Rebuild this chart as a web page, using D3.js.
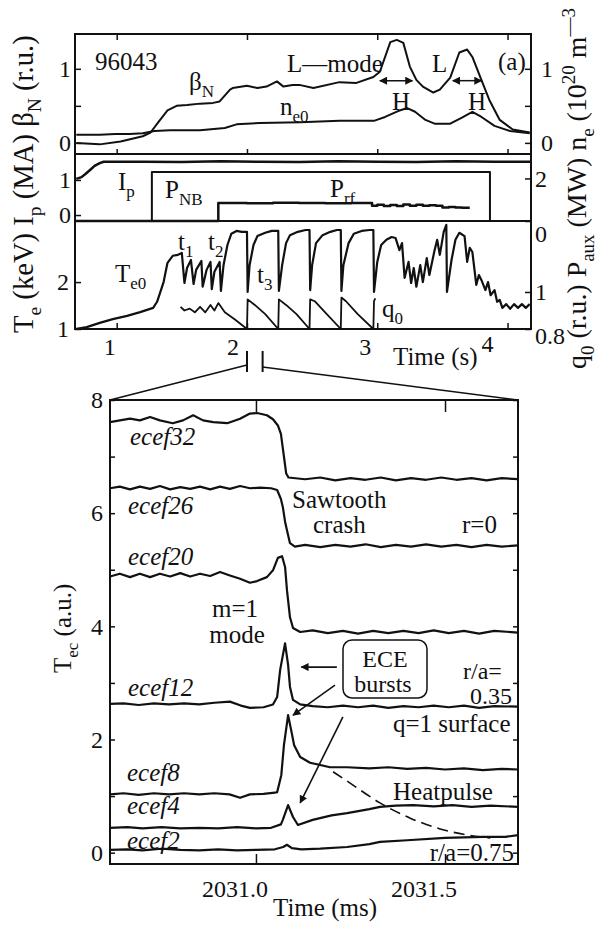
<!DOCTYPE html>
<html>
<head>
<meta charset="utf-8">
<script src="https://cdn.jsdelivr.net/npm/d3@7"></script>
<style>
  body { margin: 0; background: #fff; }
  svg { display: block; }
  text { font-family: "Liberation Serif", "Times New Roman", serif; fill: #111; }
</style>
</head>
<body>
<svg id="fig" width="597" height="925"></svg>
<script>
// ---------- panel (a) data, time in s ----------
const betaN = [[0.69,0.00],[0.87,-0.02],[1.03,0.02],[1.20,0.09],[1.26,0.14],[1.32,0.28],[1.39,0.44],[1.46,0.50],
  [1.54,0.51],[1.64,0.53],[1.74,0.54],[1.79,0.56],[1.87,0.72],[1.89,0.74],[2.00,0.77],[2.08,0.74],[2.15,0.76],
  [2.23,0.83],[2.28,0.76],[2.35,0.78],[2.41,0.78],[2.51,0.74],[2.71,0.82],[2.84,0.81],[2.97,0.89],[3.02,0.96],
  [3.10,1.36],[3.15,1.39],[3.20,1.35],[3.25,1.03],[3.30,0.85],[3.35,0.76],[3.43,0.68],[3.48,0.72],[3.56,0.88],
  [3.63,1.22],[3.69,1.26],[3.73,1.16],[3.79,0.89],[3.86,0.58],[3.94,0.31],[4.04,0.18],[4.17,0.14]];
const ne0 = [[0.69,0.11],[0.87,0.11],[0.99,0.12],[1.10,0.12],[1.20,0.13],[1.29,0.16],[1.41,0.17],[1.64,0.17],
  [1.83,0.20],[1.92,0.25],[2.10,0.27],[2.41,0.28],[2.71,0.30],[2.98,0.30],[3.06,0.35],[3.16,0.43],[3.23,0.47],
  [3.29,0.42],[3.37,0.31],[3.44,0.26],[3.56,0.26],[3.65,0.34],[3.73,0.42],[3.80,0.35],[3.90,0.23],[4.02,0.16],[4.17,0.13]];
const ip = [[0.69,1.03],[0.73,1.08],[0.76,1.17],[0.80,1.30],[0.83,1.40],[0.87,1.48],[0.90,1.52],[1.2,1.52],[1.5,1.51],
  [1.8,1.53],[2.1,1.52],[2.4,1.51],[2.7,1.53],[3.0,1.52],[3.3,1.51],[3.6,1.53],[3.9,1.52],[4.18,1.52]];
const pnb = [[0.68,0],[1.27,2.30],[3.865,0],[4.18,0]];
const prf = [[0.68,0],[1.78,0.85],[2.0,0.84],[2.2,0.86],[2.4,0.85],[2.6,0.84],[2.8,0.85],[2.96,0.72],[3.0,0.76],
  [3.05,0.70],[3.1,0.75],[3.15,0.71],[3.2,0.77],[3.25,0.72],[3.3,0.76],[3.35,0.72],[3.4,0.74],[3.45,0.72],
  [3.5,0.64],[3.55,0.66],[3.6,0.63],[3.65,0.62],[3.71,0.62]];
const te0 = [[0.68,1.00],[0.77,1.04],[0.87,1.13],[0.97,1.21],[1.08,1.28],[1.18,1.36],[1.28,1.45],[1.31,1.58],
  [1.36,2.00],[1.39,2.41],[1.43,2.56],[1.47,2.58],[1.50,2.62],[1.52,1.98],[1.54,2.30],[1.57,2.47],[1.59,1.96],
  [1.61,2.26],[1.65,2.45],[1.66,1.90],[1.69,2.26],[1.72,2.43],[1.73,1.85],[1.75,2.22],[1.79,2.43],[1.80,1.81],
  [1.82,2.36],[1.85,2.79],[1.88,3.03],[1.92,3.09],[1.96,3.07],[2.00,3.07],[2.005,1.79],[2.02,2.36],[2.05,2.79],
  [2.08,2.98],[2.14,3.05],[2.19,3.09],[2.24,3.09],[2.245,1.81],[2.27,2.36],[2.30,2.83],[2.33,3.00],[2.39,3.07],
  [2.45,3.11],[2.48,3.11],[2.485,1.83],[2.50,2.36],[2.53,2.83],[2.58,3.00],[2.64,3.07],[2.69,3.11],[2.72,3.11],
  [2.725,1.81],[2.74,2.36],[2.78,2.83],[2.82,3.03],[2.88,3.09],[2.94,3.11],[2.97,3.11],[2.975,1.79],[3.00,2.43],
  [3.03,2.79],[3.07,2.90],[3.11,2.96],[3.14,2.94],[3.17,2.68],[3.19,2.83],[3.21,2.09],[3.24,2.43],[3.26,1.98],
  [3.28,2.30],[3.30,1.90],[3.33,2.36],[3.35,2.00],[3.38,2.51],[3.40,2.15],[3.44,2.68],[3.46,2.90],[3.48,2.58],
  [3.51,3.07],[3.53,3.22],[3.535,1.79],[3.57,2.47],[3.60,2.90],[3.63,3.05],[3.67,2.98],[3.69,2.43],[3.71,2.73],
  [3.73,2.64],[3.76,1.94],[3.78,2.15],[3.80,2.04],[3.83,1.83],[3.85,2.00],[3.87,1.72],[3.90,1.83],[3.92,1.58],
  [3.94,1.62],[3.96,1.45],[3.99,1.53],[4.02,1.43],[4.05,1.53],[4.08,1.45],[4.11,1.53],[4.14,1.45],[4.17,1.53]];
const q0 = [[1.49,0.92],[1.52,0.90],[1.56,0.91],[1.60,0.89],[1.64,0.92],[1.68,0.89],[1.72,0.93],[1.75,0.90],
  [1.78,0.94],[1.83,0.89],[1.91,0.85],[2.00,0.80],[2.005,0.96],[2.06,0.93],[2.14,0.88],[2.24,0.80],
  [2.245,0.96],[2.30,0.93],[2.38,0.88],[2.48,0.80],[2.485,0.96],[2.52,0.95],[2.60,0.89],[2.72,0.80],
  [2.725,0.97],[2.76,0.95],[2.85,0.88],[2.97,0.80],[2.975,0.95],[2.985,0.965]];

const ticksTime = [1, 2, 3, 4];

// ---------- panel (b) data, time in ms ----------
const ecef32 = [[2030.614,7.61],[2030.640,7.64],[2030.667,7.67],[2030.693,7.64],[2030.720,7.70],[2030.746,7.64],
  [2030.780,7.59],[2030.807,7.64],[2030.834,7.73],[2030.860,7.64],[2030.887,7.61],[2030.924,7.59],[2030.958,7.67],
  [2030.984,7.76],[2031.003,7.77],[2031.029,7.73],[2031.045,7.66],[2031.058,7.55],[2031.066,7.40],[2031.071,7.15],
  [2031.076,6.90],[2031.080,6.70],[2031.086,6.63],[2031.13,6.60],[2031.17,6.63],[2031.21,6.58],[2031.25,6.62],
  [2031.29,6.59],[2031.33,6.63],[2031.37,6.58],[2031.41,6.62],[2031.45,6.59],[2031.49,6.63],[2031.53,6.59],
  [2031.57,6.62],[2031.61,6.58],[2031.65,6.62],[2031.693,6.60]];
const ecef26 = [[2030.614,6.44],[2030.64,6.47],[2030.667,6.42],[2030.693,6.47],[2030.72,6.43],[2030.746,6.48],
  [2030.773,6.42],[2030.80,6.46],[2030.826,6.43],[2030.852,6.47],[2030.879,6.42],[2030.905,6.47],[2030.931,6.43],
  [2030.958,6.48],[2030.984,6.44],[2031.011,6.45],[2031.04,6.44],[2031.056,6.41],[2031.066,6.25],[2031.071,6.11],
  [2031.077,5.85],[2031.082,5.70],[2031.09,5.47],[2031.103,5.41],[2031.13,5.44],[2031.17,5.40],[2031.21,5.44],
  [2031.25,5.41],[2031.29,5.45],[2031.33,5.40],[2031.37,5.44],[2031.41,5.41],[2031.45,5.45],[2031.49,5.41],
  [2031.53,5.44],[2031.57,5.40],[2031.61,5.44],[2031.65,5.41],[2031.693,5.43]];
const ecef20 = [[2030.614,4.88],[2030.64,4.93],[2030.667,4.87],[2030.693,4.93],[2030.72,4.87],[2030.746,4.93],
  [2030.773,4.88],[2030.80,4.94],[2030.826,4.88],[2030.852,4.93],[2030.879,4.89],[2030.905,4.96],[2030.931,4.90],
  [2030.958,4.84],[2030.984,4.77],[2031.003,4.80],[2031.029,4.87],[2031.045,4.99],[2031.058,5.21],[2031.069,5.24],
  [2031.077,5.05],[2031.082,4.64],[2031.09,4.16],[2031.098,3.97],[2031.117,3.90],[2031.15,3.93],[2031.19,3.88],
  [2031.23,3.92],[2031.27,3.87],[2031.31,3.92],[2031.35,3.88],[2031.39,3.92],[2031.43,3.88],[2031.47,3.93],
  [2031.51,3.88],[2031.55,3.92],[2031.59,3.87],[2031.63,3.92],[2031.693,3.89]];
const ecef12 = [[2030.614,2.63],[2030.65,2.64],[2030.69,2.61],[2030.73,2.64],[2030.77,2.62],[2030.81,2.64],
  [2030.85,2.62],[2030.89,2.65],[2030.931,2.67],[2030.96,2.60],[2030.984,2.56],[2031.02,2.57],[2031.045,2.62],
  [2031.056,2.75],[2031.064,3.23],[2031.077,3.70],[2031.085,3.32],[2031.09,2.93],[2031.098,2.70],[2031.117,2.62],
  [2031.15,2.59],[2031.19,2.57],[2031.23,2.60],[2031.27,2.57],[2031.31,2.60],[2031.35,2.56],[2031.39,2.59],
  [2031.43,2.57],[2031.47,2.60],[2031.51,2.57],[2031.55,2.60],[2031.59,2.56],[2031.63,2.59],[2031.693,2.58]];
const ecef8 = [[2030.614,1.03],[2030.65,1.05],[2030.69,1.02],[2030.73,1.05],[2030.77,1.03],[2030.81,1.05],
  [2030.85,1.03],[2030.89,1.05],[2030.93,1.03],[2030.958,0.97],[2030.984,1.03],[2031.02,1.04],[2031.05,1.06],
  [2031.056,1.07],[2031.067,1.37],[2031.074,1.90],[2031.085,2.43],[2031.093,2.17],[2031.101,1.90],[2031.117,1.69],
  [2031.143,1.59],[2031.196,1.51],[2031.241,1.51],[2031.30,1.49],[2031.35,1.51],[2031.40,1.48],[2031.45,1.50],
  [2031.50,1.47],[2031.55,1.49],[2031.60,1.46],[2031.65,1.48],[2031.693,1.47]];
const ecef4 = [[2030.614,0.44],[2030.66,0.45],[2030.70,0.43],[2030.75,0.45],[2030.80,0.43],[2030.85,0.44],
  [2030.90,0.43],[2030.95,0.45],[2031.0,0.43],[2031.04,0.44],[2031.066,0.50],[2031.071,0.58],[2031.085,0.84],
  [2031.098,0.63],[2031.111,0.49],[2031.15,0.58],[2031.20,0.66],[2031.241,0.70],[2031.30,0.77],[2031.328,0.81],
  [2031.37,0.83],[2031.416,0.84],[2031.47,0.82],[2031.52,0.84],[2031.57,0.81],[2031.62,0.83],[2031.693,0.81]];
const ecef2 = [[2030.614,0.05],[2030.66,0.06],[2030.70,0.04],[2030.75,0.07],[2030.80,0.05],[2030.85,0.04],
  [2030.90,0.06],[2030.95,0.04],[2031.0,0.05],[2031.05,0.06],[2031.072,0.10],[2031.082,0.14],[2031.095,0.08],
  [2031.12,0.06],[2031.17,0.07],[2031.241,0.10],[2031.30,0.15],[2031.328,0.19],[2031.40,0.22],[2031.50,0.26],
  [2031.60,0.28],[2031.66,0.28],[2031.693,0.31]];
const heatpulse = [[2031.204,1.43],[2031.249,1.23],[2031.328,0.88],[2031.408,0.61],[2031.487,0.42],
  [2031.593,0.28],[2031.62,0.26]];

const ticksMs = [2031.0, 2031.5];
const ticksTec = [0, 1, 2, 3, 4, 5, 6, 7, 8];

// ---------- scales ----------
const xa = d3.scaleLinear().domain([0.68, 4.18]).range([75, 531]);
const yTop = d3.scaleLinear().domain([-0.15, 1.47]).range([154, 34]);
const yIp = d3.scaleLinear().domain([-0.17, 1.74]).range([221, 154]);
const yP = d3.scaleLinear().domain([0, 3.15]).range([221, 154]);
const yTe = d3.scaleLinear().domain([1, 3.28]).range([329, 222]);
const yQ = d3.scaleLinear().domain([0.8, 1.378]).range([329, 222]);
const xb = d3.scaleLinear().domain([2030.614, 2031.693]).range([110, 518]);
const yb = d3.scaleLinear().domain([-0.2, 8]).range([864, 400]);

const svg = d3.select("#fig");
svg.append("rect").attr("width", 597).attr("height", 925).attr("fill", "#fff");

const defs = svg.append("defs");
defs.append("marker").attr("id", "ah").attr("viewBox", "0 0 10 10")
  .attr("refX", 9).attr("refY", 5).attr("markerWidth", 11).attr("markerHeight", 8)
  .attr("markerUnits", "userSpaceOnUse").attr("orient", "auto-start-reverse")
  .append("path").attr("d", "M0,0 L10,5 L0,10 z").attr("fill", "#111");

function trace(data, xs, ys, opts = {}) {
  const line = d3.line().x(d => xs(d[0])).y(d => ys(d[1])).curve(opts.curve || d3.curveLinear);
  return svg.append("path").attr("d", line(data)).attr("fill", "none")
    .attr("stroke", "#111").attr("stroke-width", opts.w || 2)
    .attr("stroke-linejoin", "round").attr("stroke-dasharray", opts.dash || null);
}

// text with optional sub/superscripts: parts = [[str, "sub"|"sup"|null], ...]
function txt(x, y, parts, opts = {}) {
  const size = opts.size || 25;
  const t = svg.append("text").attr("x", x).attr("y", y).attr("font-size", size)
    .attr("text-anchor", opts.anchor || "start")
    .attr("font-style", opts.italic ? "italic" : null)
    .attr("transform", opts.rot ? `rotate(-90,${x},${y})` : null);
  let shift = 0;
  parts.forEach(([s, kind]) => {
    const target = kind === "sub" ? 0.28 * size : kind === "sup" ? -0.4 * size : 0;
    t.append("tspan").text(s).attr("dy", target - shift)
      .attr("font-size", kind ? size * 0.68 : size);
    shift = target;
  });
  // scale the whole label so that it spans a given length
  if (opts.span) {
    const len = t.node().getComputedTextLength();
    const k = opts.span / len;
    t.attr("font-size", size * k);
    t.selectAll("tspan").each(function () {
      const s = d3.select(this);
      s.attr("font-size", +s.attr("font-size") * k).attr("dy", +s.attr("dy") * k);
    });
  }
  return t;
}

// ---------- panel (a) frame and axes ----------
svg.append("rect").attr("x", 75).attr("y", 34).attr("width", 456).attr("height", 295)
  .attr("fill", "none").attr("stroke", "#111").attr("stroke-width", 2);
[154, 221].forEach(y => svg.append("line").attr("x1", 75).attr("x2", 531).attr("y1", y).attr("y2", y)
  .attr("stroke", "#111").attr("stroke-width", 2));

function axis(gen, tx, ty, size) {
  const g = svg.append("g").attr("transform", `translate(${tx},${ty})`).call(gen);
  g.select(".domain").remove();
  g.selectAll(".tick line").attr("stroke", "#111").attr("stroke-width", 1.5);
  g.selectAll(".tick text").attr("font-size", size || 24).attr("fill", "#111");
  return g;
}
const noLab = () => "";
const plain = d => String(d);
axis(d3.axisTop(xa).tickValues(ticksTime).tickSize(-6).tickFormat(noLab), 0, 34);
axis(d3.axisBottom(xa).tickValues(ticksTime).tickSize(-5).tickFormat(noLab), 0, 154);
axis(d3.axisBottom(xa).tickValues(ticksTime).tickSize(-6).tickFormat(noLab), 0, 329);
const timeLabDx = { 1: -7, 2: -14, 3: -12, 4: -20 };
ticksTime.forEach(v => txt(xa(v) + timeLabDx[v], v === 4 ? 352 : 355, [[String(v)]], { anchor: "middle", size: 24 }));

axis(d3.axisLeft(yTop).tickValues([0, 0.5, 1]).tickSize(-6).tickPadding(4).tickFormat(d => d === 0.5 ? "" : d), 75, 0);
axis(d3.axisRight(yTop).tickValues([0, 0.5, 1]).tickSize(-6).tickPadding(10).tickFormat(d => d === 0.5 ? "" : d), 531, 0);
axis(d3.axisLeft(yIp).tickValues([0, 1]).tickSize(-6).tickPadding(4).tickFormat(plain), 75, 0);
axis(d3.axisRight(yP).tickValues([0, 2]).tickSize(-6).tickPadding(4).tickFormat(plain), 531, 0)
  .selectAll(".tick").filter(d => d === 0).select("text").attr("dy", "0.85em");
axis(d3.axisLeft(yTe).tickValues([1, 2]).tickSize(-6).tickPadding(6).tickFormat(plain), 75, 0);
axis(d3.axisRight(yQ).tickValues([0.8, 1]).tickSize(-6).tickPadding(4).tickFormat(d => d === 1 ? "1" : "0.8"), 531, 0)
  .selectAll(".tick").filter(d => d === 0.8).select("text").attr("dy", "0.6em");

// ---------- panel (a) traces ----------
trace(betaN, xa, yTop);
trace(ne0, xa, yTop);
trace(ip, xa, yIp, { w: 2.5 });
trace(pnb, xa, yP, { curve: d3.curveStepAfter });
trace(prf, xa, yP, { curve: d3.curveStepAfter, w: 2.5 });
trace(te0, xa, yTe, { w: 2.2 });
trace(q0, xa, yQ, { w: 1.8 });

// double arrows L/H
[[3.02, 3.27], [3.58, 3.80]].forEach(([a, b]) => svg.append("line")
  .attr("x1", xa(a)).attr("x2", xa(b)).attr("y1", yTop(0.84)).attr("y2", yTop(0.84))
  .attr("stroke", "#111").attr("stroke-width", 1.5)
  .attr("marker-start", "url(#ah)").attr("marker-end", "url(#ah)"));

// panel (a) labels
txt(95, 70, [["96043"]]);
txt(189, 90, [["β"], ["N", "sub"]]);
txt(287, 72, [["L—mode"]]);
txt(432, 72, [["L"]]);
txt(498, 70, [["(a)"]]);
txt(392, 110, [["H"]]);
txt(468, 110, [["H"]]);
txt(280, 115, [["n"], ["e0", "sub"]]);
txt(118, 190, [["I"], ["p", "sub"]]);
txt(165, 198, [["P"], ["NB", "sub"]]);
txt(330, 197, [["P"], ["rf", "sub"]]);
txt(115, 282, [["T"], ["e0", "sub"]]);
txt(178, 250, [["t"], ["1", "sub"]]);
txt(208, 250, [["t"], ["2", "sub"]]);
txt(257, 283, [["t"], ["3", "sub"]]);
txt(382, 317, [["q"], ["0", "sub"]]);
txt(393, 365, [["Time (s)"]]);

// rotated axis titles
txt(33, 333, [["T"], ["e", "sub"], [" (keV) I"], ["p", "sub"], [" (MA) β"], ["N", "sub"], [" (r.u.)"]],
  { rot: true, span: 298 });
txt(586, 369, [["q"], ["0", "sub"], [" (r.u.) P"], ["aux", "sub"], [" (MW) n"], ["e", "sub"], [" (10"],
  ["20", "sup"], [" m"], ["—3", "sup"]], { rot: true, span: 361 });

// ---------- zoom connector ----------
const brk = [2.0, 2.12];
brk.forEach(t => svg.append("line").attr("x1", xa(t)).attr("x2", xa(t)).attr("y1", 351).attr("y2", 372)
  .attr("stroke", "#111").attr("stroke-width", 2));
svg.append("line").attr("x1", xa(brk[0])).attr("y1", 365).attr("x2", 110).attr("y2", 400)
  .attr("stroke", "#111").attr("stroke-width", 1.5);
svg.append("line").attr("x1", xa(brk[1])).attr("y1", 367).attr("x2", 518).attr("y2", 400)
  .attr("stroke", "#111").attr("stroke-width", 1.5);

// ---------- panel (b) ----------
svg.append("rect").attr("x", 110).attr("y", 400).attr("width", 408).attr("height", 464)
  .attr("fill", "none").attr("stroke", "#111").attr("stroke-width", 2);
axis(d3.axisLeft(yb).tickValues(ticksTec).tickSize(-5).tickPadding(7).tickFormat(d => d % 2 ? "" : d), 110, 0);
axis(d3.axisRight(yb).tickValues(ticksTec).tickSize(-5).tickFormat(noLab), 518, 0);
axis(d3.axisTop(xb).tickValues(ticksMs).tickSize(-12).tickFormat(noLab), 0, 400);
axis(d3.axisBottom(xb).tickValues(ticksMs).tickSize(-10).tickFormat(noLab), 0, 864);
ticksMs.forEach(v => txt(xb(v) + 12, 897, [[v.toFixed(1)]], { anchor: "end", size: 24 }));
txt(273, 916, [["Time (ms)"]]);
txt(71, 673, [["T"], ["ec", "sub"], [" (a.u.)"]], { rot: true });

[ecef32, ecef26, ecef20, ecef12, ecef8, ecef4, ecef2].forEach(s => trace(s, xb, yb, { w: 2.2 }));
trace(heatpulse, xb, yb, { curve: d3.curveMonotoneX, dash: "11,6", w: 1.6 });

txt(130, 445, [["ecef32"]], { italic: true });
txt(128, 514, [["ecef26"]], { italic: true });
txt(128, 565, [["ecef20"]], { italic: true });
txt(128, 696, [["ecef12"]], { italic: true });
txt(127, 781, [["ecef8"]], { italic: true });
txt(127, 814, [["ecef4"]], { italic: true });
txt(127, 849, [["ecef2"]], { italic: true });
txt(235, 617, [["m=1"]], { anchor: "middle" });
txt(237, 643, [["mode"]], { anchor: "middle" });
txt(292, 508, [["Sawtooth"]]);
txt(313, 533, [["crash"]]);
txt(462, 533, [["r=0"]]);
txt(463, 679, [["r/a="]], { size: 24 });
txt(512, 704, [["0.35"]], { anchor: "end", size: 24 });
txt(393, 732, [["q=1 surface"]]);
txt(393, 800, [["Heatpulse"]]);
txt(514, 861, [["r/a=0.75"]], { anchor: "end" });

// ECE bursts box and arrows
svg.append("rect").attr("x", 343).attr("y", 640).attr("width", 84).attr("height", 58).attr("rx", 9)
  .attr("fill", "#fff").attr("stroke", "#111").attr("stroke-width", 1.5);
txt(385, 667, [["ECE"]], { anchor: "middle", size: 24 });
txt(383, 692, [["bursts"]], { anchor: "middle", size: 24 });
const arrows = [
  [[2031.214, 3.28], [2031.120, 3.28]],
  [[2031.209, 2.96], [2031.098, 2.43]],
  [[2031.230, 2.40], [2031.117, 0.88]]
];
arrows.forEach(([a, b]) => svg.append("line")
  .attr("x1", xb(a[0])).attr("y1", yb(a[1])).attr("x2", xb(b[0])).attr("y2", yb(b[1]))
  .attr("stroke", "#111").attr("stroke-width", 1.6).attr("marker-end", "url(#ah)"));
</script>
</body>
</html>
